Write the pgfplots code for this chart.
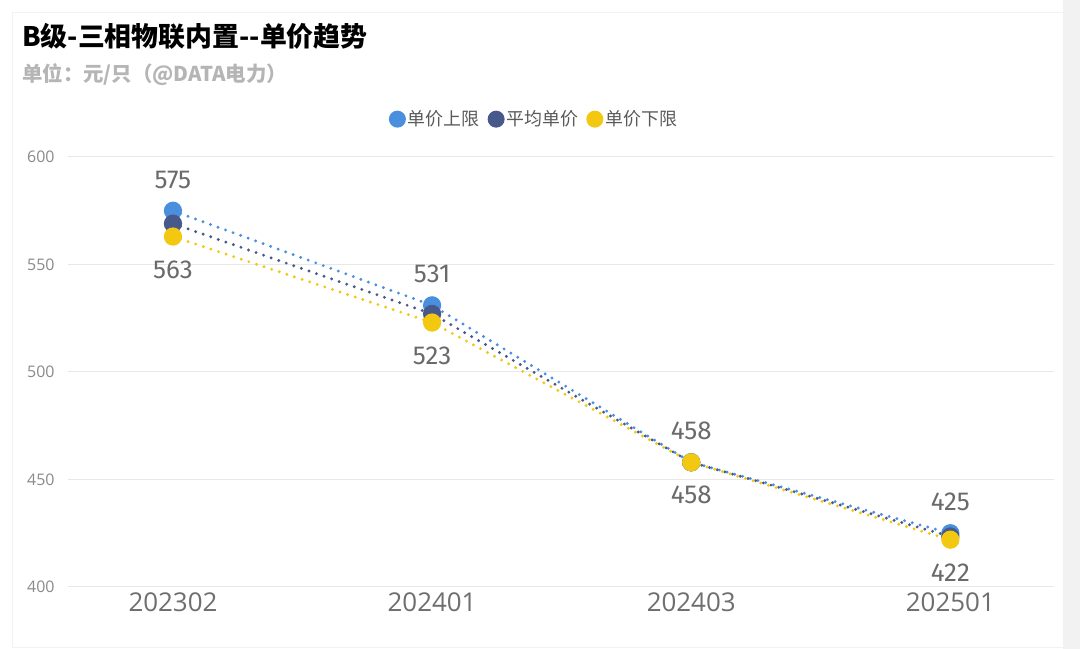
\documentclass[border=0pt]{standalone}
\usepackage{pgfplots}
\pgfplotsset{compat=1.18}
\usepackage{fontspec}
\setmainfont{Noto Sans CJK SC}
\newfontfamily\tickfont{Open Sans}
\newfontfamily\labfont{Fira Sans}
\definecolor{cblue}{HTML}{4A8FDE}
\definecolor{cnavy}{HTML}{47598A}
\definecolor{cyel}{HTML}{F2C811}
\definecolor{gridc}{HTML}{E8E8E8}
\definecolor{tickc}{HTML}{8A8A8A}
\definecolor{catc}{HTML}{6E6E6E}
\definecolor{labc}{HTML}{6A6A6A}
\definecolor{subc}{HTML}{B5B5B5}
\definecolor{legc}{HTML}{5A5A5A}
\pgfplotstableread{
x up avg low
0 575 569 563
1 531 527 523
2 458 458 458
3 425 423.5 422
}\data
\begin{document}
\begin{tikzpicture}[x=1bp,y=1bp]
\useasboundingbox (0,0) rectangle (1080,649);
\fill[white] (0,0) rectangle (1080,649);
\fill[black!5] (1063,0) rectangle (1080,649);
\draw[black!5] (12,2) -- (12,637) -- (1063,637);
\draw[black!5] (12,2) -- (1063,2);
\node[anchor=west,inner sep=0pt,font=\fontsize{27}{32}\selectfont\bfseries] at (22,613) {B级-三相物联内置-{}-单价趋势};
\node[anchor=west,inner sep=0pt,font=\fontsize{20.5}{24}\selectfont\bfseries,text=subc] at (22,574) {单位：元/只（@DATA电力）};
\begin{axis}[
  at={(68bp,62bp)}, anchor=south west,
  scale only axis, width=986bp, height=430bp,
  xmin=-0.405, xmax=3.4, ymin=400, ymax=600,
  ytick={400,450,500,550,600},
  xtick={0,1,2,3},
  xticklabels={202302,202401,202403,202501},
  axis line style={draw=none},
  tick style={draw=none},
  ymajorgrids, grid style={gridc, line width=1bp},
  /pgf/number format/assume math mode=true,
  yticklabel style={font=\tickfont\fontsize{16}{18}\selectfont, text=tickc, anchor=east, xshift=-10bp},
  xticklabel style={font=\tickfont\fontsize{26}{29}\selectfont, text=catc, yshift=-2bp},
  legend style={draw=none, fill=none, at={(0.4726,1.088)}, anchor=center,
     font=\fontsize{18}{21}\selectfont, text=legc, legend columns=3,
     /tikz/every even column/.append style={column sep=6bp}},
  legend image code/.code={\path[#1, solid, draw=none, fill=.] (4bp,0) circle (8.5bp);},
  clip=false,
]
\addplot[cblue, line width=3.2bp, line cap=round, dash pattern=on 0pt off 8bp,
  mark=*, mark size=7.5bp, mark options={solid, draw=none, fill=cblue},
  nodes near coords={\pgfmathprintnumber{\pgfplotspointmeta}},
  point meta=explicit,
  every node near coord/.append style={anchor=center, yshift=31bp, font=\labfont\fontsize{26}{28}\selectfont, text=labc}]
  table[x=x, y=up, meta=up] {\data};
\addlegendentry{单价上限}
\addplot[cnavy, line width=3.2bp, line cap=round, dash pattern=on 0pt off 8bp,
  mark=*, mark size=7.5bp, mark options={solid, draw=none, fill=cnavy}]
  table[x=x, y=avg] {\data};
\addlegendentry{平均单价}
\addplot[cyel, line width=3.2bp, line cap=round, dash pattern=on 0pt off 8bp,
  mark=*, mark size=7.5bp, mark options={solid, draw=none, fill=cyel},
  nodes near coords={\pgfmathprintnumber{\pgfplotspointmeta}},
  point meta=explicit,
  every node near coord/.append style={anchor=center, yshift=-33bp, font=\labfont\fontsize{26}{28}\selectfont, text=labc}]
  table[x=x, y=low, meta=low] {\data};
\addlegendentry{单价下限}
\end{axis}
\end{tikzpicture}
\end{document}
